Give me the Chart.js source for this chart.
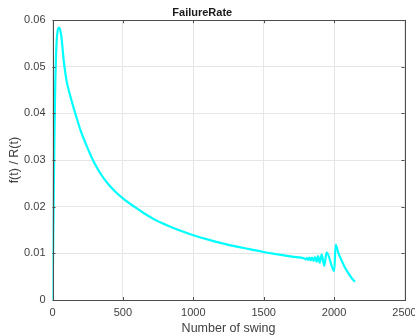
<!DOCTYPE html>
<html>
<head>
<meta charset="utf-8">
<script src="https://cdn.jsdelivr.net/npm/chart.js@4"></script>
<style>
    html, body { margin: 0; padding: 0; background: #fff; }
    #wrap { width: 415px; height: 336px; }
</style>
</head>
<body>
<div id="wrap"><canvas id="failure-rate-chart" width="415" height="336"></canvas></div>
<script>
// DATA
const swings = [0, 5, 10, 15, 20, 25, 30, 35, 40, 47, 55, 65, 75, 83, 100, 125, 150, 167, 200, 250, 290,
    350, 400, 450, 500, 586, 650, 716, 800, 905, 1000, 1100, 1200, 1300, 1400, 1500, 1600, 1700, 1790,
    1800, 1808, 1816, 1824, 1834, 1843, 1854, 1864, 1876, 1886, 1898, 1912, 1930, 1947, 2001, 2011,
    2030, 2050, 2075, 2100, 2125, 2148];
const failureRate = [0, 0.012, 0.026, 0.038, 0.047, 0.0525, 0.0557, 0.0574, 0.0582, 0.0584, 0.0579, 0.056, 0.0528, 0.0505, 0.047, 0.0439, 0.0412, 0.0395, 0.0363, 0.0325, 0.0298,
    0.0267, 0.0247, 0.0231, 0.0218, 0.0199, 0.0186, 0.0174, 0.0162, 0.0149, 0.0139, 0.013, 0.0122, 0.0115, 0.0109, 0.0103, 0.0098, 0.0093, 0.0089,
    0.0087, 0.009, 0.0086, 0.0091, 0.0085, 0.0091, 0.0084, 0.0092, 0.0082, 0.0094, 0.008, 0.0098, 0.0073, 0.0102, 0.0062, 0.0119,
    0.0101, 0.0087, 0.0071, 0.0058, 0.0047, 0.0039];
const xTicks = [0, 500, 1000, 1500, 2000, 2500];
const yTicks = [0, 0.01, 0.02, 0.03, 0.04, 0.05, 0.06];

const textColor = '#404040';
const axisColor = '#4d4d4d';
const gridColor = '#e6e6e6';

window.addEventListener('load', function () {
    failureRateChart();
})

// MATLAB-STYLE BOX + INWARD TICKS
const boxPlugin = {
    id: 'matlabBox',
    afterDraw(chart) {
        const { ctx, chartArea: a, scales } = chart;
        ctx.save();
        ctx.strokeStyle = axisColor;
        ctx.lineWidth = 1;
        ctx.strokeRect(Math.round(a.left) + 0.5, Math.round(a.top) + 0.5,
            Math.round(a.right - a.left), Math.round(a.bottom - a.top));
        const len = 3;
        ctx.beginPath();
        xTicks.forEach(v => {
            const px = Math.round(scales.x.getPixelForValue(v)) + 0.5;
            ctx.moveTo(px, a.bottom); ctx.lineTo(px, a.bottom - len);
            ctx.moveTo(px, a.top); ctx.lineTo(px, a.top + len);
        });
        yTicks.forEach(v => {
            const py = Math.round(scales.y.getPixelForValue(v)) + 0.5;
            ctx.moveTo(a.left, py); ctx.lineTo(a.left + len, py);
            ctx.moveTo(a.right, py); ctx.lineTo(a.right - len, py);
        });
        ctx.stroke();
        ctx.restore();
    }
};

// FAILURE RATE CHART
function failureRateChart() {
    const ctx = document.getElementById('failure-rate-chart').getContext('2d');
    const points = swings.map((s, i) => ({ x: s, y: failureRate[i] }));

    Chart.defaults.font.family = '"Liberation Sans", Arial, sans-serif';
    Chart.defaults.color = textColor;

    const chart = new Chart(ctx, {
        type: 'line',
        data: {
            datasets: [{
                label: 'FailureRate',
                data: points,
                borderColor: '#00ffff',
                borderWidth: 2.2,
                pointRadius: 0,
                cubicInterpolationMode: 'monotone',
                fill: false
            }]
        },
        options: {
            responsive: false,
            animation: false,
            layout: { padding: { left: 0, right: 10.5, top: 0, bottom: 0 } },
            plugins: {
                legend: { display: false },
                tooltip: { enabled: false },
                title: {
                    display: true,
                    text: 'FailureRate',
                    color: '#1a1a1a',
                    font: { size: 11, weight: 'bold' },
                    padding: { top: 6, bottom: 1 }
                }
            },
            scales: {
                x: {
                    type: 'linear',
                    min: 0,
                    max: 2500,
                    afterBuildTicks: s => { s.ticks = xTicks.map(v => ({ value: v })); },
                    afterFit: s => { s.height = 36; s.paddingLeft = 0; s.paddingRight = 0; },
                    grid: { color: gridColor, drawTicks: false },
                    border: { display: false },
                    ticks: {
                        padding: 6,
                        maxRotation: 0,
                        font: { size: 11 },
                        callback: v => String(v)
                    },
                    title: {
                        display: true,
                        text: 'Number of swing',
                        font: { size: 12.5 },
                        padding: { top: 0, bottom: 0 }
                    }
                },
                y: {
                    type: 'linear',
                    min: 0,
                    max: 0.06,
                    afterBuildTicks: s => { s.ticks = yTicks.map(v => ({ value: v })); },
                    afterFit: s => { s.width = 52.5; s.paddingTop = 0; s.paddingBottom = 0; },
                    grid: { color: gridColor, drawTicks: false },
                    border: { display: false },
                    ticks: {
                        padding: 7,
                        font: { size: 11 },
                        callback: v => String(+v.toFixed(2))
                    },
                    title: {
                        display: true,
                        text: 'f(t) / R(t)',
                        font: { size: 12.5 },
                        padding: { top: 7, bottom: 0 }
                    }
                }
            }
        },
        plugins: [boxPlugin]
    });
}
</script>
</body>
</html>
